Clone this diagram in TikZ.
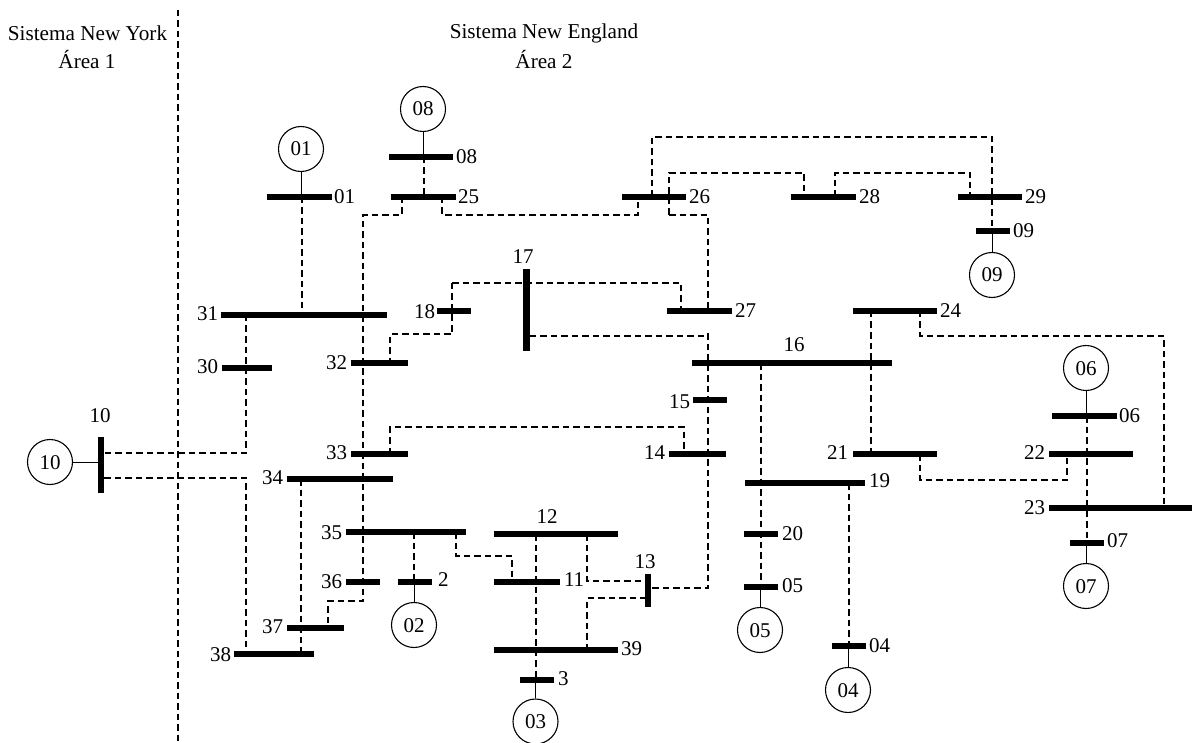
\documentclass[tikz,border=0pt]{standalone}
\usepackage{fontspec}
\setmainfont{Liberation Serif}
\newcommand{\busH}[4]{\node[busbar,minimum width={#3-#2},minimum height=6] (#1) at ({(#2+#3)/2},#4) {};}
\newcommand{\busV}[4]{\node[busbar,minimum width=6.5,minimum height={#4-#3}] (#1) at (#2,{(#3+#4)/2}) {};}
\tikzset{
  busbar/.style={fill=black,inner sep=0pt,outer sep=0pt,draw=none},
  gen/.style={circle,draw=black,line width=1.1pt,minimum size=45,inner sep=0pt,font=\fontsize{21}{25}\selectfont,text height=14pt,text depth=0pt},
  lab/.style={inner sep=0pt,outer sep=0pt,font=\fontsize{21}{25}\selectfont},
  areacap/.style={inner sep=0pt,outer sep=0pt,font=\fontsize{21.2}{25}\selectfont},
  tie/.style={draw=black,line width=1.8pt,dash pattern=on 6.5pt off 4pt},
  feed/.style={draw=black,line width=1pt}
}
\begin{document}
\begin{tikzpicture}[x=1pt,y=-1pt]
\useasboundingbox (0,0) rectangle (1194,743);
% Buses
\busH{b01}{267}{332}{197}
\busH{b08}{389}{453}{157}
\busH{b25}{391}{456}{197}
\busH{b26}{622}{686}{197}
\busH{b28}{791}{856}{197}
\busH{b29}{958}{1022}{197}
\busH{b09}{976}{1010}{231}
\busH{b31}{221}{387}{315}
\busH{b18}{437}{471}{311}
\busH{b27}{667}{732}{311}
\busH{b24}{853}{937}{311}
\busH{b32}{351}{408}{363}
\busH{b30}{222}{272}{368}
\busH{b16}{692}{892}{363}
\busH{b15}{693}{727}{400}
\busH{b06}{1052}{1117}{416}
\busH{b33}{351}{408}{454}
\busH{b14}{669}{726}{454}
\busH{b21}{853}{937}{454}
\busH{b22}{1049}{1133}{454}
\busH{b34}{287}{393}{479}
\busH{b19}{745}{865}{483}
\busH{b23}{1049}{1192}{508}
\busH{b35}{346}{466}{532}
\busH{b12}{494}{618}{534}
\busH{b20}{744}{778}{534}
\busH{b07}{1070}{1104}{543}
\busH{b36}{346}{380}{582}
\busH{b02}{398}{432}{582}
\busH{b11}{494}{560}{582}
\busH{b05}{744}{778}{587}
\busH{b37}{287}{344}{628}
\busH{b04}{832}{866}{646}
\busH{b39}{494}{618}{650}
\busH{b38}{234}{314}{654}
\busH{b03}{520}{554}{680}
\busV{b17}{526.5}{269}{351}
\busV{b10}{101}{437}{493}
\busV{b13}{648}{574}{607}
% Generators
\node[gen] (g01) at (301,149) {01};
\node[gen] (g08) at (423,109) {08};
\node[gen] (g09) at (992,275) {09};
\node[gen] (g06) at (1086,368) {06};
\node[gen] (g10) at (50,462) {10};
\node[gen] (g02) at (414,625) {02};
\node[gen] (g05) at (760,630) {05};
\node[gen] (g07) at (1086,586) {07};
\node[gen] (g04) at (848,690) {04};
\node[gen] (g03) at (535.5,721.5) {03};
% Generator feeders
\draw[feed] (g01) -- (g01 |- b01);
\draw[feed] (g08) -- (g08 |- b08);
\draw[feed] (g09) -- (g09 |- b09);
\draw[feed] (g06) -- (g06 |- b06);
\draw[feed] (g10) -- (g10 -| b10);
\draw[feed] (g02) -- (g02 |- b02);
\draw[feed] (g05) -- (g05 |- b05);
\draw[feed] (g07) -- (g07 |- b07);
\draw[feed] (g04) -- (g04 |- b04);
\draw[feed] (g03) -- (g03 |- b03);
% Area divider
\coordinate (divT) at (178,10);
\coordinate (divB) at (178,743);
\draw[tie] (divT) -- (divB);
% Ties
\draw[tie] (302,0 |- b01) -- (302,0 |- b31);
\draw[tie] (424,0 |- b08) -- (424,0 |- b25);
\draw[tie] (402,0 |- b25) -- (402,215) -- (363,215) -- (363,0 |- b36) -- (363,601) -- (328,601) -- (328,0 |- b37);
\draw[tie] (442,0 |- b25) -- (442,215) -- (638,215) -- (638,0 |- b26);
\draw[tie] (652,0 |- b26) -- (652,137) -- (992,137) -- (992,0 |- b09);
\draw[tie] (669,215) -- (669,173) -- (804,173) -- (804,0 |- b28);
\draw[tie] (669,215) -- (708,215) -- (708,0 |- b27);
\draw[tie] (835,0 |- b28) -- (835,173) -- (970,173) -- (970,0 |- b29);
\draw[tie] (246,0 |- b31) -- (246,453) -- (b10.east |- 0,453);
\draw[tie] (b10.east |- 0,478) -- (246,478) -- (246,0 |- b38);
\draw[tie] (452,283) -- (681,283) -- (681,0 |- b27);
\draw[tie] (452,283) -- (452,334) -- (390,334) -- (390,0 |- b32);
\draw[tie] (b17.east |- 0,336) -- (708,336);
\draw[tie] (708,333) -- (708,0 |- b14) -- (708,588) -- (b13.east |- 0,588);
\draw[tie] (761,0 |- b16) -- (761,0 |- b05);
\draw[tie] (871,0 |- b24) -- (871,0 |- b21);
\draw[tie] (920,0 |- b24) -- (920,336) -- (1164,336) -- (1164,0 |- b23);
\draw[tie] (390,0 |- b33) -- (390,427) -- (684,427) -- (684,0 |- b14);
\draw[tie] (301,0 |- b34) -- (301,0 |- b38);
\draw[tie] (414,0 |- b35) -- (414,0 |- b02);
\draw[tie] (456,0 |- b35) -- (456,556) -- (512,556) -- (512,0 |- b11);
\draw[tie] (536,0 |- b12) -- (536,0 |- b03);
\draw[tie] (587,0 |- b12) -- (587,581) -- (b13.west |- 0,581);
\draw[tie] (587,0 |- b39) -- (587,598) -- (b13.west |- 0,598);
\draw[tie] (849,0 |- b19) -- (849,0 |- b04);
\draw[tie] (920,0 |- b21) -- (920,480) -- (1067,480) -- (1067,0 |- b22);
\draw[tie] (1087,0 |- b06) -- (1087,0 |- b07);
% Bus labels
\node[lab,anchor=west] (t01) at (334,197) {01};
\node[lab,anchor=west] (t08) at (456,157) {08};
\node[lab,anchor=west] (t25) at (458,197) {25};
\node[lab,anchor=west] (t26) at (689,197) {26};
\node[lab,anchor=west] (t28) at (859,197) {28};
\node[lab,anchor=west] (t29) at (1025,197) {29};
\node[lab,anchor=west] (t09) at (1013,231) {09};
\node[lab,anchor=west] (t27) at (735,311) {27};
\node[lab,anchor=west] (t24) at (940,311) {24};
\node[lab] (t16) at (794,345) {16};
\node[lab] (t17) at (523,257) {17};
\node[lab,anchor=east] (t18) at (435,312) {18};
\node[lab,anchor=east] (t31) at (218,314) {31};
\node[lab,anchor=east] (t30) at (218,367) {30};
\node[lab,anchor=east] (t32) at (347,363) {32};
\node[lab,anchor=east] (t33) at (347,453) {33};
\node[lab,anchor=east] (t34) at (283,478) {34};
\node[lab,anchor=east] (t35) at (342,533) {35};
\node[lab,anchor=east] (t36) at (342,582) {36};
\node[lab,anchor=east] (t37) at (283,627) {37};
\node[lab,anchor=east] (t38) at (231,655) {38};
\node[lab] (t10) at (100,416) {10};
\node[lab,anchor=west] (t02) at (438,580) {2};
\node[lab,anchor=east] (t15) at (690,402) {15};
\node[lab,anchor=east] (t14) at (665,453) {14};
\node[lab,anchor=east] (t21) at (848,453) {21};
\node[lab,anchor=east] (t22) at (1045,453) {22};
\node[lab,anchor=east] (t23) at (1045,508) {23};
\node[lab,anchor=west] (t19) at (869,481) {19};
\node[lab,anchor=west] (t20) at (782,534) {20};
\node[lab,anchor=west] (t05) at (782,586) {05};
\node[lab,anchor=west] (t04) at (869,646) {04};
\node[lab,anchor=west] (t39) at (621,649) {39};
\node[lab,anchor=west] (t03) at (558,679) {3};
\node[lab] (t12) at (547,517) {12};
\node[lab,anchor=west] (t11) at (564,580) {11};
\node[lab] (t13) at (645,562) {13};
\node[lab,anchor=west] (t07) at (1107,541) {07};
\node[lab,anchor=west] (t06) at (1119,416) {06};
% Area captions
\node[areacap] (ny1) at (87.5,33.5) {Sistema New York};
\node[areacap] (ny2) at (87,60) {Área 1};
\node[areacap] (ne1) at (544,33.5) {Sistema New England};
\node[areacap] (ne2) at (544,60) {Área 2};
\end{tikzpicture}
\end{document}
